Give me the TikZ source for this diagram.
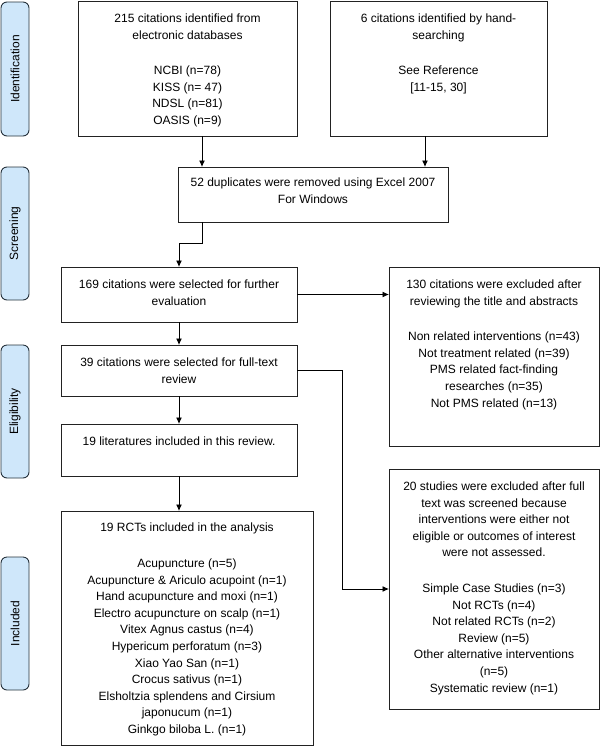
\documentclass[tikz,border=0pt]{standalone}
\usepackage{fontspec}
\setmainfont{Liberation Sans}
\usetikzlibrary{arrows.meta}
\definecolor{sidefill}{HTML}{CFE7FA}
\definecolor{sidedraw}{HTML}{26323C}
\definecolor{boxdraw}{HTML}{222222}
\begin{document}
\begin{tikzpicture}[x=1pt,y=-1pt,
  box/.style={draw=boxdraw, line width=0.9pt, rectangle, inner sep=0pt, outer sep=0pt},
  txt/.style={anchor=north, align=center, inner sep=0pt, font=\fontsize{12}{16.6}\selectfont},
  side/.style={draw=sidedraw, fill=sidefill, line width=0.9pt, rounded corners=6pt, rotate=90,
    minimum height=28pt, inner sep=0pt, font=\fontsize{12}{14}\selectfont},
  arr/.style={draw=black, line width=0.9pt, -{Latex[length=6.5pt,width=6pt]}}
]
\useasboundingbox (0,0) rectangle (600,748);

% sidebar
\node[side, minimum width=134pt] (s1) at (15,69) {Identification};
\node[side, minimum width=133pt] (s2) at (15,233.5) {Screening};
\node[side, minimum width=133pt] (s3) at (15,411.5) {Eligibility};
\node[side, minimum width=133pt] (s4) at (15,623.5) {Included};

% boxes
\node[box, minimum width=219pt, minimum height=135pt] (A) at (187.5,68.5) {};
\node[box, minimum width=217pt, minimum height=135pt] (B) at (438.5,68.5) {};
\node[box, minimum width=270pt, minimum height=55pt] (C) at (313,194.5) {};
\node[box, minimum width=236pt, minimum height=55pt] (D) at (179,294.5) {};
\node[box, minimum width=236pt, minimum height=51pt] (E) at (179,370.5) {};
\node[box, minimum width=236pt, minimum height=52pt] (F) at (179,450) {};
\node[box, minimum width=252pt, minimum height=234pt] (G) at (187,628) {};
\node[box, minimum width=210pt, minimum height=179pt] (H) at (494,356.5) {};
\node[box, minimum width=210pt, minimum height=240pt] (I) at (494,589) {};

% texts
\node[txt] (At) at ([yshift=-12.5pt]A.north) {215 citations identified from\\electronic databases\\[19pt]NCBI (n=78)\\KISS (n= 47)\\NDSL (n=81)\\OASIS (n=9)};
\node[txt] (Bt) at ([yshift=-12.5pt]B.north) {6 citations identified by hand-\\searching\\[19pt]See Reference\\{[}11-15, 30{]}};
\node[txt] (Ct) at ([yshift=-11pt]C.north) {52 duplicates were removed using Excel 2007\\For Windows};
\node[txt] (Dt) at ([yshift=-12.5pt]D.north) {169 citations were selected for further\\evaluation};
\node[txt] (Et) at ([yshift=-12.5pt]E.north) {39 citations were selected for full-text\\review};
\node[txt] (Ft) at ([yshift=-12.5pt]F.north) {19 literatures included in this review.};
\node[txt] (Gt) at ([yshift=-12pt]G.north) {19 RCTs included in the analysis\\[19pt]Acupuncture (n=5)\\Acupuncture \& Ariculo acupoint (n=1)\\Hand acupuncture and moxi (n=1)\\Electro acupuncture on scalp (n=1)\\Vitex Agnus castus (n=4)\\Hypericum perforatum (n=3)\\Xiao Yao San (n=1)\\Crocus sativus (n=1)\\Elsholtzia splendens and Cirsium\\japonucum (n=1)\\Ginkgo biloba L. (n=1)};
\node[txt] (Ht) at ([yshift=-12.5pt]H.north) {130 citations were excluded after\\reviewing the title and abstracts\\[19pt]Non related interventions (n=43)\\Not treatment related (n=39)\\PMS related fact-finding\\researches (n=35)\\Not PMS related (n=13)};
\node[txt] (It) at ([yshift=-12.5pt]I.north) {20 studies were excluded after full\\text was screened because\\interventions were either not\\eligible or outcomes of interest\\were not assessed.\\[19pt]Simple Case Studies (n=3)\\Not RCTs (n=4)\\Not related RCTs (n=2)\\Review (n=5)\\Other alternative interventions\\(n=5)\\Systematic review (n=1)};

% connectors
\coordinate (ac) at (202,0);
\coordinate (bc) at (425,0);
\coordinate (ei) at (342,0);
\draw[arr] (A.south -| ac) -- (C.north -| ac);
\draw[arr] (B.south -| bc) -- (C.north -| bc);
\draw[arr] (C.south -| ac) -- ++(0,21) -| (D.north);
\draw[arr] (D.south) -- (E.north);
\draw[arr] (E.south) -- (F.north);
\draw[arr] (F.south) -- (F.south |- G.north);
\draw[arr] (D.east) -- (D.east -| H.west);
\draw[arr] (E.east) -- (E.east -| ei) |- (I.west);
\end{tikzpicture}
\end{document}
